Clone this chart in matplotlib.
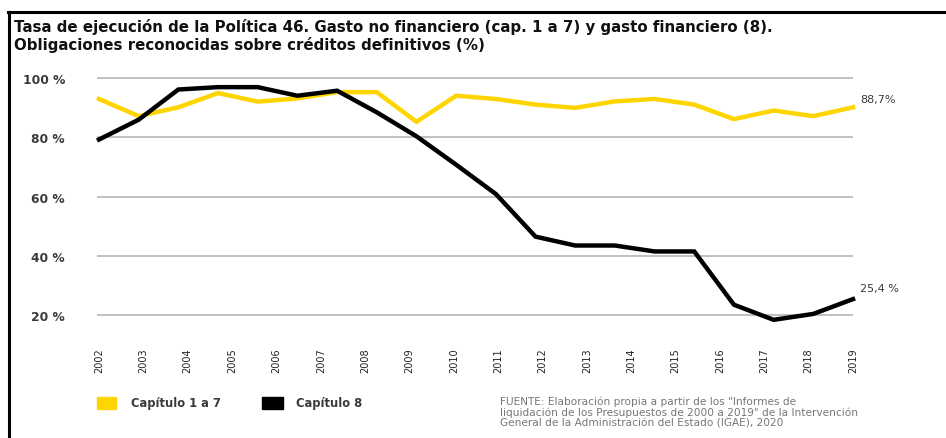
import numpy as np
import matplotlib.pyplot as plt
from matplotlib.lines import Line2D
from matplotlib.patches import Rectangle

# 20 data points per series (2000-2019), axis labelled 2002-2019
cap_1_7 = [93.0, 87.2, 90.2, 95.0, 92.1, 93.2, 95.3, 95.3, 85.3, 94.1,
           93.0, 91.1, 90.0, 92.2, 93.0, 91.1, 86.2, 89.1, 87.2, 90.2]
cap_8 = [79.3, 86.0, 96.2, 97.0, 97.0, 94.1, 95.8, 88.5, 80.4, 70.8,
         60.9, 46.5, 43.5, 43.5, 41.5, 41.5, 23.5, 18.4, 20.4, 25.4]
year_labels = [str(y) for y in range(2002, 2020)]
y_ticks = [20, 40, 60, 80, 100]
y_tick_labels = ["20 %", "40 %", "60 %", "80 %", "100 %"]
end_labels = ["88,7%", "25,4 %"]

YELLOW = "#FFD500"
TXT = "#3a3a3a"

fig = plt.figure(figsize=(9.46, 4.39), dpi=100)

# frame lines (top and left)
fig.add_artist(Line2D([8 / 946, 1], [1 - 13 / 439, 1 - 13 / 439], color="black", lw=2.2))
fig.add_artist(Line2D([8.5 / 946, 8.5 / 946], [0, 1 - 13 / 439], color="black", lw=2.2))

fig.text(14 / 946, 1 - 36 / 439,
         "Tasa de ejecución de la Política 46. Gasto no financiero (cap. 1 a 7) y gasto financiero (8).\n"
         "Obligaciones reconocidas sobre créditos definitivos (%)",
         fontsize=10.8, fontweight="bold", color="#111111", va="center", ha="left",
         linespacing=1.1)

ax = fig.add_axes([97 / 946, (439 - 345.7) / 439, 756 / 946, (345.7 - 76.3) / 439])
x = np.arange(len(cap_1_7))
ax.plot(x, cap_1_7, color=YELLOW, lw=3.2, clip_on=False, solid_joinstyle="miter")
ax.plot(x, cap_8, color="black", lw=3.2, clip_on=False, solid_joinstyle="miter")

ax.set_xlim(-0.05, 18.9)
ax.set_ylim(10, 101)
ax.set_yticks(y_ticks)
ax.set_yticklabels(y_tick_labels, fontsize=8.8, fontweight="bold", color=TXT)
ax.set_xticks(np.linspace(0, len(cap_1_7) - 1, len(year_labels)))
ax.set_xticklabels(year_labels, rotation=90, fontsize=7, color="#222222", va="top")
ax.tick_params(axis="both", length=0)
ax.tick_params(axis="y", pad=23)
ax.tick_params(axis="x", pad=2)
ax.grid(axis="y", color="#b5b5b5", lw=1.2)
ax.set_axisbelow(True)
for s in ax.spines.values():
    s.set_visible(False)

ax.annotate(end_labels[0], (x[-1], cap_1_7[-1]), xytext=(5, 6), textcoords="offset points",
            fontsize=8, color=TXT, va="center")
ax.annotate(end_labels[1], (x[-1], cap_8[-1]), xytext=(5, 8), textcoords="offset points",
            fontsize=8, color=TXT, va="center")

# legend
fig.add_artist(Rectangle((97 / 946, 1 - 410 / 439), 19 / 946, 12 / 439, color=YELLOW))
fig.text(131 / 946, 1 - 404 / 439, "Capítulo 1 a 7", fontsize=8.3, fontweight="bold",
         color=TXT, va="center")
fig.add_artist(Rectangle((262 / 946, 1 - 410 / 439), 21 / 946, 12 / 439, color="black"))
fig.text(296 / 946, 1 - 404 / 439, "Capítulo 8", fontsize=8.3, fontweight="bold",
         color=TXT, va="center")

fig.text(500 / 946, 1 - 397 / 439,
         "FUENTE: Elaboración propia a partir de los \"Informes de\n"
         "liquidación de los Presupuestos de 2000 a 2019\" de la Intervención\n"
         "General de la Administración del Estado (IGAE), 2020",
         fontsize=7.6, color="#777777", va="top", ha="left", linespacing=1.05)

fig.savefig("out.png", dpi=100)
